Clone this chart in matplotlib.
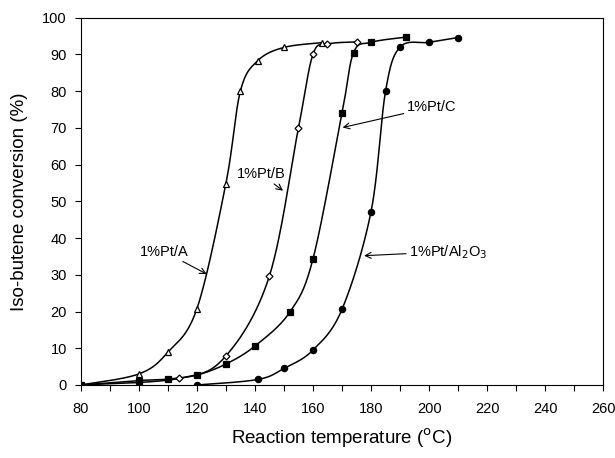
import numpy as np
import matplotlib
matplotlib.use("Agg")
import matplotlib.pyplot as plt

plt.rcParams['font.family'] = ['Liberation Sans', 'DejaVu Sans']

# data
temp_a = [80, 100, 110, 120, 130, 135, 141, 150, 163]
conv_a = [0, 3.0, 8.9, 20.7, 54.8, 80.0, 88.3, 91.9, 93.2]

temp_b = [80, 114, 130, 145, 155, 160, 165, 175]
conv_b = [0, 1.8, 7.9, 29.7, 70.0, 90.0, 92.8, 93.4]

temp_c = [80, 100, 110, 120, 130, 140, 152, 160, 170, 174, 180, 192]
conv_c = [0, 1.2, 1.6, 2.7, 5.7, 10.6, 19.8, 34.3, 74.0, 90.5, 93.3, 94.7]

temp_d = [120, 141, 150, 160, 170, 180, 185, 190, 200, 210]
conv_d = [0, 1.5, 4.5, 9.5, 20.6, 47.2, 80.0, 92.0, 93.3, 94.6]


def smooth(x, y, n=30):
    # catmull-rom through the points, like a "smoothed line" chart
    p = np.column_stack([x, y]).astype(float)
    p = np.vstack([p[0], p, p[-1]])
    out = []
    t = np.linspace(0, 1, n)[:, None]
    for i in range(1, len(p) - 2):
        p0, p1, p2, p3 = p[i - 1], p[i], p[i + 1], p[i + 2]
        seg = 0.5 * ((2 * p1) + (-p0 + p2) * t
                     + (2 * p0 - 5 * p1 + 4 * p2 - p3) * t ** 2
                     + (-p0 + 3 * p1 - 3 * p2 + p3) * t ** 3)
        out.append(seg)
    out = np.vstack(out)
    return out[:, 0], out[:, 1]


fig = plt.figure(figsize=(6.15, 4.58), dpi=100)
ax = fig.add_axes([0.1312, 0.1594, 0.8498, 0.802])

series = [
    (temp_a, conv_a, '^', 'white', 4.5),
    (temp_b, conv_b, 'D', 'white', 3.5),
    (temp_c, conv_c, 's', 'black', 3.8),
    (temp_d, conv_d, 'o', 'black', 4.5),
]
for x, y, m, fc, ms in series:
    sx, sy = smooth(x, y)
    ax.plot(sx, sy, color='black', lw=1.1, zorder=2)
    ax.plot(x, y, ls='none', marker=m, mfc=fc, mec='black', mew=0.9,
            ms=ms, zorder=3)

arrow = dict(arrowstyle='->', color='black', lw=0.8, shrinkA=0, shrinkB=0)
fs = 10.5
ax.annotate('1%Pt/A', xy=(123.4, 30.2), xytext=(100.4, 36.3),
            fontsize=fs, va='center', arrowprops=arrow)
ax.annotate('1%Pt/B', xy=(149.7, 52.9), xytext=(133.7, 57.4),
            fontsize=fs, va='center', arrowprops=arrow)
ax.annotate('1%Pt/C', xy=(170.2, 70.1), xytext=(192.2, 75.6),
            fontsize=fs, va='center', arrowprops=arrow)
ax.annotate('1%Pt/Al$_2$O$_3$', xy=(177.6, 35.2), xytext=(193, 36.3),
            fontsize=fs, va='center', arrowprops=arrow)

ax.set_xlim(80, 260)
ax.set_ylim(0, 100)
ax.set_xticks(np.arange(80, 261, 20))
ax.set_xticks(np.arange(80, 261, 10), minor=True)
ax.set_yticks(np.arange(0, 101, 10))
ax.tick_params(axis='both', which='both', direction='out', length=4,
               width=0.8, labelsize=10.5, pad=8)
ax.tick_params(axis='y', pad=6)

for s in ax.spines.values():
    s.set_linewidth(0.8)

ax.set_xlabel('Reaction temperature ($^{\\rm o}$C)', fontsize=13.5, labelpad=8)
ax.set_ylabel('Iso-butene conversion (%)', fontsize=13.5, labelpad=10)

fig.savefig('out.png', dpi=100)
